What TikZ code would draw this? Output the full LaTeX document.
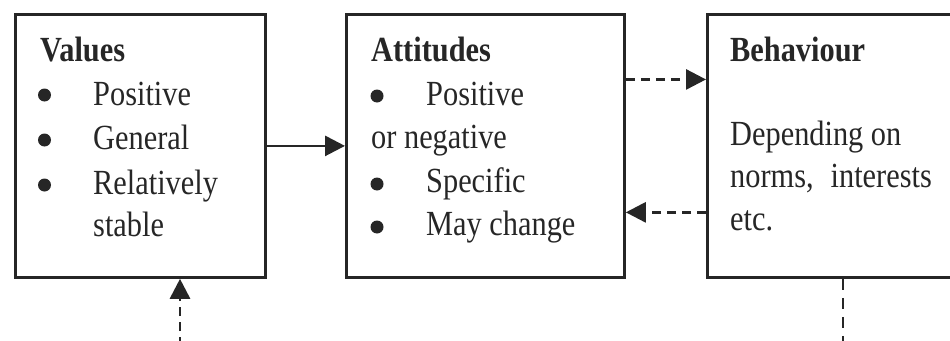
\documentclass[tikz,border=0pt]{standalone}
\usepackage{fontspec}
\setmainfont{Liberation Serif}[FakeStretch=0.86]
\usetikzlibrary{arrows.meta,calc}
\definecolor{ink}{HTML}{262626}
\begin{document}
\begin{tikzpicture}[x=1pt,y=-1pt,
  box/.style={draw=ink, line width=2.8pt, inner sep=0pt, anchor=north west, minimum height=263pt},
  txt/.style={anchor=base west, inner sep=0pt, text=ink, font=\fontsize{35.3}{43.5}\selectfont},
  headtxt/.style={txt, font=\fontsize{35.3}{43.5}\selectfont\bfseries},
  bul/.style={circle, fill=ink, inner sep=0pt, minimum size=13pt},
  link/.style={draw=ink, line width=2.8pt, -{Triangle[length=20pt,width=20pt]}},
  dashlink/.style={link, dash pattern=on 9pt off 6pt},
  dashline/.style={draw=ink, line width=2.8pt, dash pattern=on 11pt off 8pt}]
\useasboundingbox (0,0) rectangle (950,340);
\clip (0,0) rectangle (950,340);

% the three boxes
\node[box, minimum width=250pt] (values)    at (14,13)  {};
\node[box, minimum width=278pt] (attitudes) at (345,13) {};
\node[box, minimum width=264pt] (behaviour) at (706,13) {};

% Values
\node[headtxt] (vh) at (40,61) {Values};
\node[bul] (vb1) at (44.5,95) {};
\node[txt] (v1) at (93,105) {Positive};
\node[bul] (vb2) at (44.5,140) {};
\node[txt] (v2) at (93,149) {General};
\node[bul] (vb3) at (44.5,185) {};
\node[txt] (v3) at (93,194) {Relatively};
\node[txt] (v4) at (93,236) {stable};

% Attitudes
\node[headtxt] (ah) at (371,61) {Attitudes};
\node[bul] (ab1) at (377,96) {};
\node[txt] (a1) at (426,105) {Positive};
\node[txt] (a2) at (371,148) {or negative};
\node[bul] (ab3) at (377,184) {};
\node[txt] (a3) at (426,192) {Specific};
\node[bul] (ab4) at (377,227) {};
\node[txt] (a4) at (426,235) {May change};

% Behaviour
\node[headtxt] (bh) at (730,61) {Behaviour};
\node[txt] (b1) at (730,145) {Depending on};
\node[txt] (b2) at (730,187) {norms,\hspace{17pt}interests};
\node[txt] (b3) at (730,230) {etc.};

% connectors
\draw[link] (values.east) -- (attitudes.west);
\coordinate (aup) at ($(attitudes.north east)!0.25!(attitudes.south east)$);
\coordinate (alo) at ($(attitudes.north east)!0.75!(attitudes.south east)$);
\draw[dashlink] (aup) -- (aup -| behaviour.west);
\draw[dashlink] (alo -| behaviour.west) -- (alo);
\coordinate (vin) at (180,346);
\draw[dashlink] (vin) -- (vin |- values.south);
\coordinate (bout) at (843,346);
\draw[dashline] (bout |- behaviour.south) -- (bout);
\end{tikzpicture}
\end{document}
